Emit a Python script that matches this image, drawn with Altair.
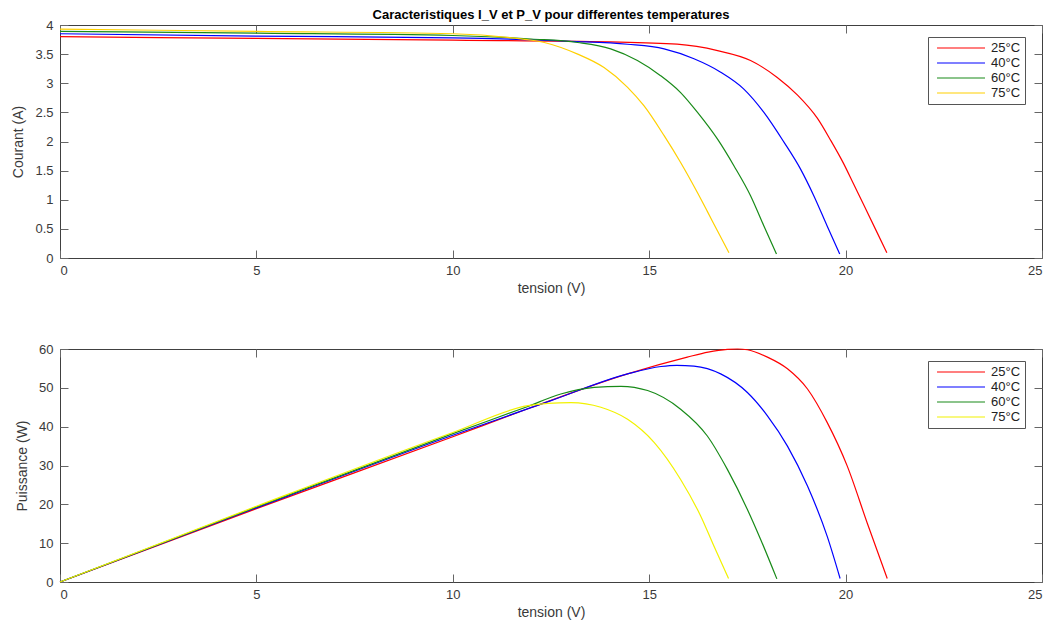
import altair as alt
import pandas as pd

FONT = "Liberation Sans"
LABELS = ["25°C", "40°C", "60°C", "75°C"]
COLORS_TOP = ["#ff0000", "#0000ff", "#188a18", "#ffd000"]
COLORS_BOT = ["#ff0000", "#0000ff", "#188a18", "#f2f200"]

# ---- I-V curves ----
V_iv_25 = [0, 5, 10, 14, 15.71, 16.74, 17.58, 18.26, 18.77, 19.28, 19.62, 19.95, 20.21, 20.47, 20.80, 21.05]
I_25 = [3.80, 3.77, 3.74, 3.71, 3.67, 3.56, 3.39, 3.10, 2.80, 2.40, 2.02, 1.62, 1.26, 0.90, 0.44, 0.09]
V_iv_40 = [0, 5, 10, 13, 14.45, 15.38, 16.14, 16.82, 17.41, 17.92, 18.43, 18.85, 19.19, 19.53, 19.85]
I_40 = [3.85, 3.81, 3.78, 3.72, 3.67, 3.59, 3.42, 3.19, 2.90, 2.50, 1.99, 1.53, 1.07, 0.55, 0.07]
V_iv_60 = [0, 5, 10, 12, 13.18, 14.02, 14.70, 15.29, 15.80, 16.23, 16.74, 17.16, 17.58, 17.92, 18.24]
I_60 = [3.89, 3.86, 3.82, 3.76, 3.70, 3.59, 3.39, 3.13, 2.84, 2.50, 2.04, 1.58, 1.07, 0.55, 0.07]
V_iv_75 = [0, 5, 10, 11.5, 12.33, 13.18, 13.85, 14.45, 14.87, 15.38, 15.80, 16.23, 16.48, 16.75, 17.03]
I_75 = [3.93, 3.89, 3.85, 3.78, 3.70, 3.50, 3.27, 2.93, 2.61, 2.10, 1.64, 1.12, 0.80, 0.45, 0.09]

# ---- P-V curves ----
V_pv_25 = [0, 5, 10, 11.91, 14.45, 15.97, 16.5, 16.99, 17.25, 17.5, 18.01, 18.52, 19.03, 19.53, 20.04, 20.55, 21.06]
P_25 = [0, 18.9, 37.4, 44.6, 53.6, 57.9, 59.2, 59.9, 60.0, 59.8, 57.9, 54.9, 49.7, 41.1, 29.9, 15.2, 0.9]
V_pv_40 = [0, 5, 10, 12.5, 14.45, 15.30, 15.7, 16.14, 16.82, 17.50, 18.01, 18.52, 19.03, 19.53, 19.86]
P_40 = [0, 19.1, 37.8, 46.7, 53.6, 55.5, 55.8, 55.6, 53.6, 48.8, 42.8, 35.0, 24.7, 11.8, 0.9]
V_pv_60 = [0, 5, 10, 11.91, 12.75, 13.60, 14.28, 14.96, 15.80, 16.48, 16.99, 17.50, 17.84, 18.25]
P_60 = [0, 19.3, 38.2, 45.2, 48.4, 50.1, 50.4, 49.3, 44.5, 37.6, 29.0, 18.7, 10.9, 0.8]
V_pv_75 = [0, 5, 10, 11.91, 12.42, 13.01, 13.77, 14.45, 15.13, 15.80, 16.31, 16.65, 17.02]
P_75 = [0, 19.5, 38.5, 45.4, 46.0, 46.2, 45.0, 41.9, 35.9, 26.4, 17.0, 9.2, 0.9]

X_TICKS = [0, 5, 10, 15, 20, 25]
I_TICKS = [0, 0.5, 1, 1.5, 2, 2.5, 3, 3.5, 4]
P_TICKS = [0, 10, 20, 30, 40, 50, 60]


def frame(vs, ys):
    rows = []
    for lab, v, y in zip(LABELS, vs, ys):
        for a, b in zip(v, y):
            rows.append({"T": lab, "V": a, "Y": b})
    return pd.DataFrame(rows)


df_iv = frame([V_iv_25, V_iv_40, V_iv_60, V_iv_75], [I_25, I_40, I_60, I_75])
df_pv = frame([V_pv_25, V_pv_40, V_pv_60, V_pv_75], [P_25, P_40, P_60, P_75])

axis_style = dict(
    labelFont=FONT, labelFontSize=13, labelColor="#3a3a3a",
    titleFont=FONT, titleFontSize=14, titleColor="#3a3a3a", titleFontWeight="normal",
    tickColor="#666666", tickSize=8, offset=-8, domain=False, grid=False,
)


def panel(df, ytitle, ydomain, yticks, colors, height, title=None):
    xs = alt.Scale(domain=[0, 25], nice=False, zero=False)
    ysc = alt.Scale(domain=ydomain, nice=False, zero=False)
    legend = alt.Legend(
        title=None, orient="none", legendX=868, legendY=12,
        symbolType="M-0.33,0H7.67", symbolSize=144, symbolStrokeWidth=1.2,
        strokeColor="#555555", fillColor="white", padding=4,
        labelFont=FONT, labelFontSize=13, labelColor="#222222",
        labelOffset=45, rowPadding=1,
    )
    lines = alt.Chart(df).mark_line(strokeWidth=1.2, interpolate="monotone").encode(
        x=alt.X("V:Q", scale=xs, axis=alt.Axis(title="tension (V)", values=X_TICKS,
                                                orient="bottom", labelPadding=6, titlePadding=4,
                                                **axis_style)),
        y=alt.Y("Y:Q", scale=ysc, axis=alt.Axis(title=ytitle, values=yticks, format="~r",
                                                 orient="left", labelPadding=7, titlePadding=9,
                                                 **axis_style)),
        color=alt.Color("T:N", scale=alt.Scale(domain=LABELS, range=colors), legend=legend),
        detail="T:N",
    )
    ghost = alt.Chart(df).mark_line(opacity=0).encode(
        x=alt.X("V:Q", scale=xs, axis=alt.Axis(title=None, values=X_TICKS, labels=False,
                                                orient="top", **axis_style)),
        y=alt.Y("Y:Q", scale=ysc, axis=alt.Axis(title=None, values=yticks, labels=False,
                                                 orient="right", **axis_style)),
        detail="T:N",
    )
    props = dict(width=982, height=height)
    if title is not None:
        props["title"] = title
    return alt.layer(lines, ghost).resolve_axis(x="independent", y="independent").properties(**props)


title = alt.TitleParams(
    "Caracteristiques I_V et P_V pour differentes temperatures",
    font=FONT, fontSize=13, fontWeight="bold", color="black",
    anchor="middle", frame="group", offset=-3,
)

top = panel(df_iv, "Courant (A)", [0, 4], I_TICKS, COLORS_TOP, 233, title=title)
bottom = panel(df_pv, "Puissance (W)", [0, 60], P_TICKS, COLORS_BOT, 233)

chart = alt.vconcat(top, bottom, spacing=46).resolve_scale(
    color="independent"
).resolve_legend(color="independent").configure_view(
    stroke="#404040", strokeWidth=1
).properties(padding={"left": 3, "top": 0, "right": 0, "bottom": 0}, background="white")

chart.save("out.html", embed_options={"renderer": "svg", "actions": False})
